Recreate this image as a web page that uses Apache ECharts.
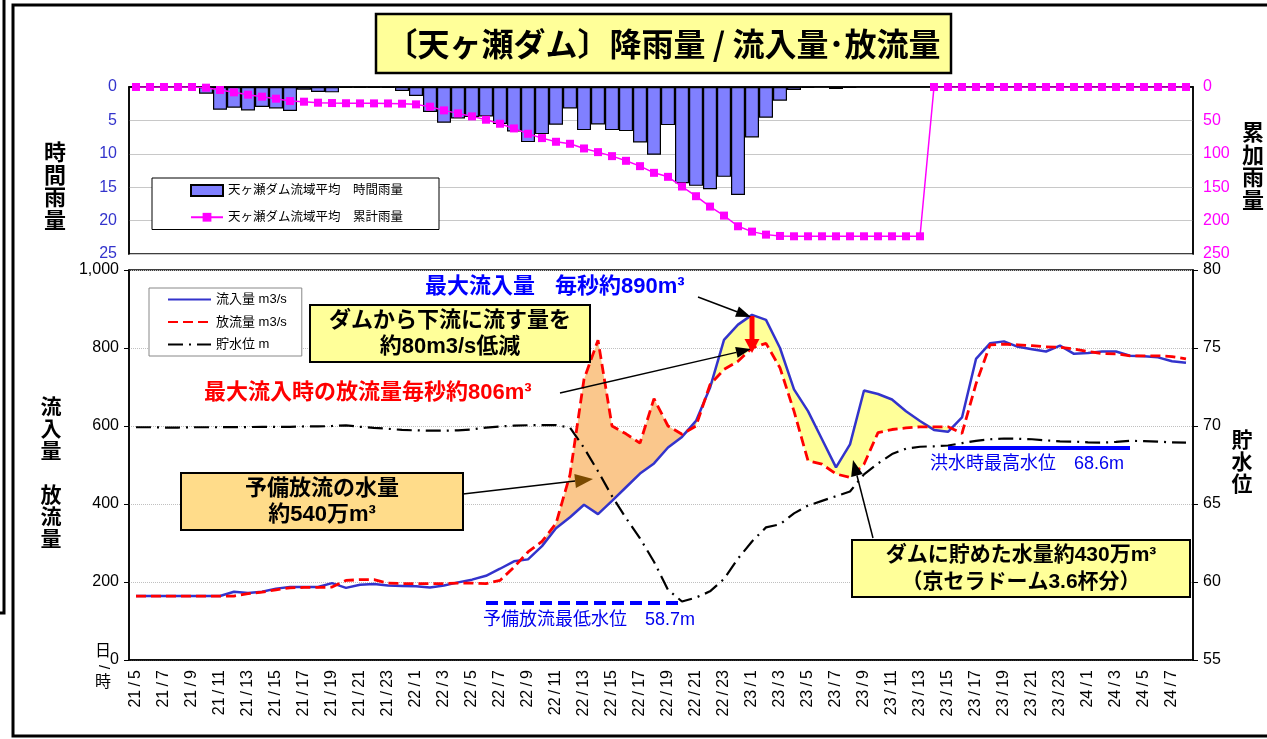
<!DOCTYPE html>
<html>
<head>
<meta charset="utf-8">
<title>天ヶ瀬ダム 降雨量 / 流入量･放流量</title>
<script src="https://cdn.jsdelivr.net/npm/echarts@6.0.0/dist/echarts.min.js"></script>
<style>
  html, body { margin: 0; padding: 0; background: #fff; }
  #chart { width: 1267px; height: 739px; }
</style>
</head>
<body>
<div id="chart"></div>
<script>
const categories = [
  '21/5', '21/6', '21/7', '21/8', '21/9', '21/10', '21/11', '21/12', '21/13', '21/14',
  '21/15', '21/16', '21/17', '21/18', '21/19', '21/20', '21/21', '21/22', '21/23', '21/24',
  '22/1', '22/2', '22/3', '22/4', '22/5', '22/6', '22/7', '22/8', '22/9', '22/10', '22/11', '22/12',
  '22/13', '22/14', '22/15', '22/16', '22/17', '22/18', '22/19', '22/20', '22/21', '22/22', '22/23', '22/24',
  '23/1', '23/2', '23/3', '23/4', '23/5', '23/6', '23/7', '23/8', '23/9', '23/10', '23/11', '23/12',
  '23/13', '23/14', '23/15', '23/16', '23/17', '23/18', '23/19', '23/20', '23/21', '23/22', '23/23', '23/24',
  '24/1', '24/2', '24/3', '24/4', '24/5', '24/6', '24/7', '24/8'
];

// hourly basin rainfall (mm)
const hourlyRain = [
  0, 0, 0, 0, 0, 1.0, 3.4, 3.1, 3.5, 3.0, 3.2, 3.6, 0.4, 0.75, 0.8, 0.1, 0.1, 0.1, 0.1, 0.6,
  1.35, 3.75, 5.35, 4.7, 4.5, 4.4, 5.55, 6.65, 8.25, 7.05, 5.65, 3.2, 6.45, 5.6, 6.45, 6.6, 8.3, 10.15, 5.7, 14.4, 14.8, 15.3, 13.45, 16.15,
  7.55, 4.6, 2.05, 0.45, 0.1, 0, 0.3, 0.1, 0, 0, 0, 0, 0, 0, 0, 0, 0, 0, 0, 0, 0, 0, 0, 0,
  0, 0, 0, 0, 0, 0, 0, 0
];

// cumulative rainfall (mm)
const cumRain = [
  0, 0, 0, 0, 0, 1, 4.5, 8, 11.5, 14.5, 17.5, 21, 22, 23.5, 24, 24.3, 24.5, 24.5, 24.6, 25,
  26, 29.5, 35, 39.5, 44, 49, 55, 62, 70, 76.5, 82, 85, 92, 97.5, 103.5, 110.5, 118.5, 128.5, 134.5, 149, 163.5, 179, 192.5, 208.5,
  216.5, 221, 223, 223.5, 223.5, 223.5, 223.5, 223.5, 223.5, 223.5, 223.5, 223.5, 223.5, 0, 0, 0, 0, 0, 0, 0, 0, 0, 0, 0,
  0, 0, 0, 0, 0, 0, 0, 0
];

// inflow (m3/s)
const inflow = [
  164, 164, 164, 164, 164, 164, 164, 175, 172, 175, 183, 187, 187, 187, 197, 185, 193, 195, 191, 190,
  189, 186, 191, 199, 206, 216, 234, 253, 258, 292, 338, 366, 398, 374, 408, 443, 478, 504, 545, 572, 613, 698, 821, 860,
  885, 872, 800, 694, 638, 566, 494, 553, 691, 682, 668, 638, 613, 590, 585, 622, 772, 812, 817, 803, 797, 791, 806, 785,
  787, 791, 791, 780, 779, 776, 766, 762
];

// outflow (m3/s)
const outflow = [
  164, 164, 164, 164, 164, 164, 164, 164, 170, 174, 180, 185, 186, 186, 187, 204, 206, 206, 197, 196,
  196, 196, 196, 197, 197, 196, 204, 238, 277, 304, 350, 475, 720, 820, 600, 580, 556, 670, 600, 579, 600, 706, 745, 766,
  800, 812, 749, 638, 511, 502, 477, 468, 502, 583, 591, 595, 598, 598, 598, 581, 708, 808, 810, 808, 806, 803, 802, 797,
  791, 786, 785, 780, 780, 780, 778, 772
];

// reservoir water level (m)
const waterLevel = [
  69.92, 69.92, 69.9, 69.9, 69.92, 69.92, 69.92, 69.93, 69.93, 69.95, 69.95, 69.95, 69.97, 69.97, 70.0, 70.04, 69.95, 69.88, 69.82, 69.75,
  69.72, 69.7, 69.7, 69.72, 69.78, 69.9, 69.97, 70.02, 70.05, 70.06, 70.06, 69.9, 68.6, 67.1, 65.5, 64.1, 62.8, 61.3, 59.5, 58.75, 59.0, 59.4, 60.2, 61.5,
  62.6, 63.5, 63.7, 64.4, 64.9, 65.2, 65.5, 65.8, 66.9, 67.6, 68.2, 68.55, 68.67, 68.7, 68.75, 68.9, 69.05, 69.15, 69.2, 69.18, 69.15, 69.08, 69.02, 69.0,
  68.95, 68.93, 68.98, 69.05, 69.03, 69.0, 68.95, 68.93
];

const maxFloodLevel = 68.6;   // 洪水時最高水位
const minPreLevel = 58.7;     // 予備放流最低水位
const floodLineSpan = ['23/15', '24/4'];
const preLineSpan = ['22/6', '22/20'];
const preReleaseSpan = [29, 40];  // 予備放流 (orange)
const storedSpan = [40, 58];      // ダムに貯めた水量 (yellow)

const FONT = '"Liberation Sans", "Noto Sans CJK JP", sans-serif';
const RAIN_NAME = '天ヶ瀬ダム流域平均　時間雨量';
const CUM_NAME = '天ヶ瀬ダム流域平均　累計雨量';

/* band between inflow and outflow, drawn as a stacked pair */
function band(span) {
  let low = [], diff = [];
  for (let i = 0; i < categories.length; i++) {
    if (i >= span[0] && i <= span[1]) {
      low.push(Math.min(inflow[i], outflow[i]));
      diff.push(Math.abs(inflow[i] - outflow[i]));
    } else {
      low.push('-');
      diff.push('-');
    }
  }
  return { low: low, diff: diff };
}

function bandSeries(span, key, color) {
  let b = band(span);
  let base = {
    type: 'line', xAxisIndex: 1, yAxisIndex: 2, stack: key, data: b.low,
    symbol: 'none', lineStyle: { opacity: 0 }, silent: true, z: 1
  };
  let top = {
    type: 'line', xAxisIndex: 1, yAxisIndex: 2, stack: key, data: b.diff,
    symbol: 'none', lineStyle: { opacity: 0 }, areaStyle: { color: color, opacity: 1 }, silent: true, z: 1
  };
  return [base, top];
}

/* arrow made of a line and a filled head */
function arrow(x1, y1, x2, y2, color, width, headLen, headW, headColor) {
  let ang = Math.atan2(y2 - y1, x2 - x1);
  let bx = x2 - headLen * Math.cos(ang), by = y2 - headLen * Math.sin(ang);
  let px = -Math.sin(ang) * headW / 2, py = Math.cos(ang) * headW / 2;
  return [
    { type: 'line', z: 120, shape: { x1: x1, y1: y1, x2: bx, y2: by }, style: { stroke: color, lineWidth: width } },
    { type: 'polygon', z: 121, shape: { points: [[x2, y2], [bx + px, by + py], [bx - px, by - py]] }, style: { fill: headColor || color } }
  ];
}

function textBox(x, y, w, h, fill, text, size, lh) {
  return [
    { type: 'rect', z: 110, shape: { x: x, y: y, width: w, height: h }, style: { fill: fill, stroke: '#000', lineWidth: 2 } },
    { type: 'text', z: 111, x: x + w / 2, y: y + h / 2,
      style: { text: text, font: 'bold ' + size + 'px ' + FONT, fill: '#000', align: 'center', verticalAlign: 'middle', lineHeight: lh } }
  ];
}

function vText(x, y, text, size, lh) {
  return { type: 'text', z: 111, x: x, y: y,
    style: { text: text.split('').join('\n'), font: 'bold ' + size + 'px ' + FONT, fill: '#000', align: 'center', verticalAlign: 'top', lineHeight: lh } };
}

function label(x, y, text, size, color, weight) {
  return { type: 'text', z: 111, x: x, y: y,
    style: { text: text, font: (weight || 'normal') + ' ' + size + 'px ' + FONT, fill: color, align: 'left', verticalAlign: 'middle' } };
}

let graphics = [
  // outer frame
  { type: 'rect', z: 100, shape: { x: 13, y: 5, width: 1300, height: 731 }, style: { fill: 'none', stroke: '#000', lineWidth: 3 } },
  { type: 'polyline', z: 100, shape: { points: [[4, 0], [4, 613], [0, 613]] }, style: { fill: 'none', stroke: '#000', lineWidth: 3 } },
  // title
  { type: 'rect', z: 110, shape: { x: 376, y: 14, width: 575, height: 59 }, style: { fill: '#FFFF99', stroke: '#000', lineWidth: 2.5 } },
  { type: 'text', z: 111, x: 663, y: 44,
    style: { text: '〔天ヶ瀬ダム〕降雨量 / 流入量･放流量', font: 'bold 32px "Noto Sans CJK JP", sans-serif', fill: '#000', align: 'center', verticalAlign: 'middle' } },
  // axis names
  vText(55, 143, '時間雨量', 22, 22.5),
  vText(1253, 123, '累加雨量', 22, 22.5),
  vText(51, 397, '流入量 放流量', 21, 22),
  vText(1242, 430, '貯水位', 21, 22),
  { type: 'text', z: 111, x: 103, y: 652, style: { text: '日', font: '16px ' + FONT, fill: '#000', align: 'center', verticalAlign: 'middle' } },
  { type: 'text', z: 111, x: 103, y: 667, rotation: -Math.PI / 2, style: { text: '/', font: '15px ' + FONT, fill: '#000', align: 'center', verticalAlign: 'middle' } },
  { type: 'text', z: 111, x: 103, y: 683, style: { text: '時', font: '16px ' + FONT, fill: '#000', align: 'center', verticalAlign: 'middle' } },
  // annotations
  label(425, 287, '最大流入量', 22, '#0000FF', 'bold'),
  label(555, 287, '毎秒約890m³', 22, '#0000FF', 'bold'),
  label(204, 393, '最大流入時の放流量毎秒約806m³', 22, '#FF0000', 'bold'),
  label(930, 464, '洪水時最高水位　68.6m', 18, '#0000EE'),
  label(483, 620, '予備放流最低水位　58.7m', 18, '#0000EE')
];
graphics = graphics
  .concat(textBox(310, 305, 280, 57, '#FFFF99', 'ダムから下流に流す量を\n約80m3/s低減', 22, 26))
  .concat(textBox(181, 473, 282, 57, '#FFDC8A', '予備放流の水量\n約540万m³', 22, 26))
  .concat(textBox(852, 540, 338, 57, '#FFFF99', 'ダムに貯めた水量約430万m³\n（京セラドーム3.6杯分）', 21, 27))
  .concat(arrow(698, 297, 751, 317, '#000', 1.5, 15, 11))
  .concat(arrow(560, 393, 751, 349, '#000', 1.5, 15, 11))
  .concat(arrow(752, 316, 752, 353, '#FF0000', 5, 14, 15))
  .concat(arrow(463, 494, 593, 479, '#000', 1.5, 18, 14, '#7A4A00'))
  .concat(arrow(873, 538, 853, 460, '#000', 1.5, 16, 12));

let series = [
  {
    name: RAIN_NAME, type: 'bar', xAxisIndex: 0, yAxisIndex: 0, data: hourlyRain,
    barCategoryGap: '0%', itemStyle: { color: '#8080FF', borderColor: '#000', borderWidth: 1.2 }
  },
  {
    name: CUM_NAME, type: 'line', xAxisIndex: 0, yAxisIndex: 1, data: cumRain,
    symbol: 'rect', symbolSize: 8, itemStyle: { color: '#FF00FF' }, lineStyle: { color: '#FF00FF', width: 1.5 }
  }
]
  .concat(bandSeries(preReleaseSpan, 'pre', '#FAC78C'))
  .concat(bandSeries(storedSpan, 'stored', '#FFFF99'))
  .concat([
    {
      name: '流入量 m3/s', type: 'line', xAxisIndex: 1, yAxisIndex: 2, data: inflow, z: 4,
      symbol: 'none', itemStyle: { color: '#3333CC' }, lineStyle: { color: '#3333CC', width: 2.5 }
    },
    {
      name: '放流量 m3/s', type: 'line', xAxisIndex: 1, yAxisIndex: 2, data: outflow, z: 5,
      symbol: 'none', itemStyle: { color: '#FF0000' }, lineStyle: { color: '#FF0000', width: 2.8, type: [10, 5] }
    },
    {
      name: '貯水位 m', type: 'line', xAxisIndex: 1, yAxisIndex: 3, data: waterLevel, z: 3,
      symbol: 'none', itemStyle: { color: '#000' }, lineStyle: { color: '#000', width: 2.2, type: [15, 6, 2, 6] },
      markLine: {
        silent: true, symbol: ['none', 'none'], label: { show: false },
        data: [
          [{ coord: [floodLineSpan[0], maxFloodLevel], lineStyle: { color: '#0000FF', width: 4, type: 'solid' } },
           { coord: [floodLineSpan[1], maxFloodLevel] }],
          [{ coord: [preLineSpan[0], minPreLevel], lineStyle: { color: '#0000FF', width: 4, type: [12, 6] } },
           { coord: [preLineSpan[1], minPreLevel] }]
        ]
      }
    }
  ]);

let axisLineBlack = { show: true, lineStyle: { color: '#000', width: 1.5 } };

let option = {
  animation: false,
  backgroundColor: '#fff',
  textStyle: { fontFamily: FONT },
  grid: [
    { left: 129, width: 1064, top: 87, height: 167, show: true, borderColor: '#000', borderWidth: 1.5, backgroundColor: 'transparent' },
    { left: 129, width: 1064, top: 270, height: 390, show: true, borderColor: '#000', borderWidth: 1.5, backgroundColor: 'transparent' }
  ],
  xAxis: [
    {
      gridIndex: 0, type: 'category', data: categories, position: 'top',
      axisLine: axisLineBlack,
      axisTick: { alignWithLabel: true, interval: 0, length: 4, lineStyle: { color: '#000' } },
      axisLabel: { show: false }
    },
    {
      gridIndex: 1, type: 'category', data: categories, position: 'bottom',
      axisLine: axisLineBlack,
      axisTick: { alignWithLabel: true, interval: 0, length: 5, lineStyle: { color: '#000' } },
      axisLabel: {
        interval: 1, rotate: 90, fontSize: 16, color: '#000', margin: 10,
        formatter: function (v) { return v.replace('/', '\u2009/\u2009'); }
      }
    }
  ],
  yAxis: [
    {
      gridIndex: 0, type: 'value', inverse: true, min: 0, max: 25, interval: 5,
      axisLine: axisLineBlack, axisTick: { show: false },
      axisLabel: { color: '#3333CC', fontSize: 16, margin: 12 },
      splitLine: { lineStyle: { color: '#C8C8C8', width: 1 } }
    },
    {
      gridIndex: 0, type: 'value', inverse: true, min: 0, max: 250, interval: 50, position: 'right',
      axisLine: axisLineBlack, axisTick: { show: false },
      axisLabel: { color: '#FF00FF', fontSize: 16, margin: 10 },
      splitLine: { show: false }
    },
    {
      gridIndex: 1, type: 'value', min: 0, max: 1000, interval: 200,
      axisLine: axisLineBlack, axisTick: { show: true, length: 5, lineStyle: { color: '#000' } },
      axisLabel: {
        color: '#000', fontSize: 16, margin: 10,
        formatter: function (v) { return v === 1000 ? '1,000' : String(v); }
      },
      splitLine: { lineStyle: { color: '#C0C0C0', type: 'dotted' } }
    },
    {
      gridIndex: 1, type: 'value', min: 55, max: 80, interval: 5, position: 'right',
      axisLine: axisLineBlack, axisTick: { show: true, length: 5, lineStyle: { color: '#000' } },
      axisLabel: { color: '#000', fontSize: 16, margin: 10 },
      splitLine: { show: false }
    }
  ],
  legend: [
    {
      data: [{ name: RAIN_NAME, icon: 'rect' }, { name: CUM_NAME }],
      orient: 'vertical', left: 152, top: 178, selectedMode: false,
      backgroundColor: '#fff', borderColor: '#000', borderWidth: 1,
      padding: [6, 36, 6, 38], itemWidth: 32, itemHeight: 11, itemGap: 14,
      textStyle: { fontSize: 12.5, color: '#000', fontFamily: FONT }
    },
    {
      data: ['流入量 m3/s', '放流量 m3/s', '貯水位 m'],
      orient: 'vertical', left: 149, top: 288, selectedMode: false,
      backgroundColor: '#fff', borderColor: '#888', borderWidth: 1,
      padding: [5, 15, 5, 18], itemWidth: 43, itemHeight: 10, itemGap: 9.5,
      itemStyle: { opacity: 0 },
      textStyle: { fontSize: 13, color: '#000', fontFamily: FONT }
    }
  ],
  series: series,
  graphic: { elements: graphics }
};

let myChart = echarts.init(document.getElementById('chart'), null, { renderer: 'canvas' });
myChart.setOption(option);
</script>
</body>
</html>
